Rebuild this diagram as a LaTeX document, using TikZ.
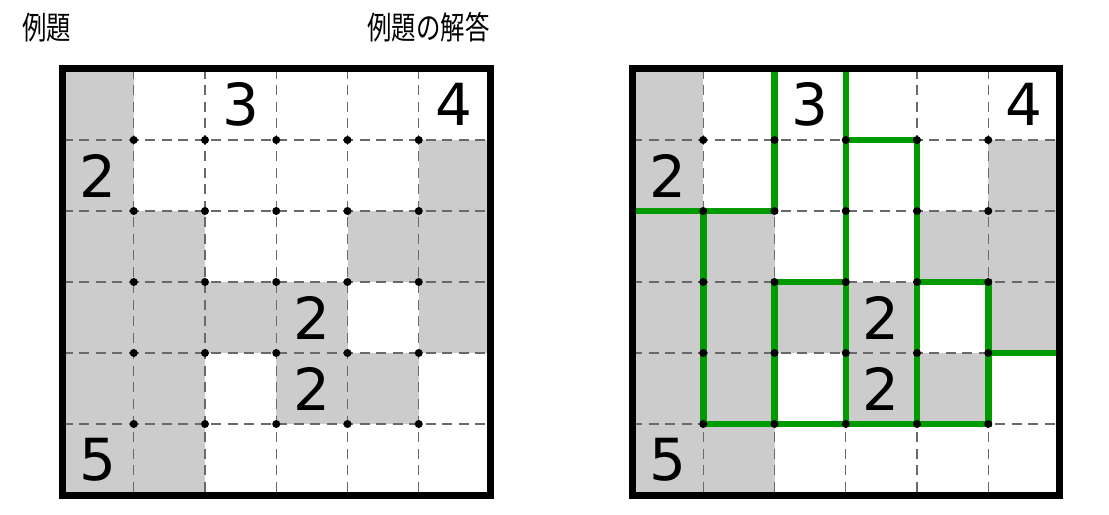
\documentclass[tikz,border=0pt]{standalone}
\usepackage{fontspec}
\newfontfamily\jpfont{Noto Sans CJK JP}
\newfontfamily\digitfont{DejaVu Sans}
\definecolor{cellgray}{RGB}{204,204,204}
\definecolor{dashgray}{RGB}{105,105,105}
\definecolor{routegreen}{RGB}{0,155,0}

\begin{document}
\begin{tikzpicture}[
    title/.style={anchor=west,inner sep=0pt,font=\jpfont\fontsize{13.9}{16}\selectfont},
    clue/.style={inner sep=0pt,font=\digitfont\fontsize{33}{36}\selectfont},
    shaded/.style={fill=cellgray},
    gridline/.style={dashgray,line width=0.7pt,dash pattern=on 0.2cm off 0.13cm},
    route/.style={routegreen,line width=0.13cm},
    frame/.style={line width=0.14cm,line join=miter}]
\useasboundingbox (0,0) rectangle (22.18,10.28);
\node[title] (qtitle) at (0.44,9.73) {\scalebox{1}[1.3]{例題}};
\node[title] (atitle) at (7.34,9.73) {\scalebox{1}[1.3]{例題の解答}};
\foreach \ox/\nm/\sol in {1.25/q/0,12.64/a/1}{
\begin{scope}[shift={(\ox cm,8.9cm)},x=1.425cm,y=-1.42cm]
    % shaded cells
    \foreach \c/\r in {0/0,0/1,5/1,0/2,1/2,4/2,5/2,0/3,1/3,2/3,3/3,5/3,
                       0/4,1/4,3/4,4/4,0/5,1/5}
        \fill[shaded] (\c,\r) rectangle ++(1,1);
    % dashed inner lines
    \foreach \i in {1,...,5}{
        \draw[gridline] (\i,0)--(\i,6);
        \draw[gridline] (0,\i)--(6,\i);
    }
    % solution
    \ifnum\sol=1
    \draw[route] (2,0)--(2,2)--(0,2);
    \draw[route] (3,0)--(3,5);
    \draw[route] (3,1)--(4,1)--(4,5);
    \draw[route] (1,2)--(1,5)--(5,5)--(5,3)--(4,3);
    \draw[route] (2,5)--(2,3)--(3,3);
    \draw[route] (5,4)--(6,4);
    \fi
    \foreach \i in {1,...,5}
        \foreach \j in {1,...,5}
            \fill (\i,\j) circle (0.08cm);
    \draw[frame] (0,0) rectangle (6,6);
    \node[clue] (\nm-three) at (2.5,0.5) {3};
    \node[clue] (\nm-four) at (5.5,0.5) {4};
    \node[clue] (\nm-twoa) at (0.5,1.5) {2};
    \node[clue] (\nm-twob) at (3.5,3.5) {2};
    \node[clue] (\nm-twoc) at (3.5,4.5) {2};
    \node[clue] (\nm-five) at (0.5,5.5) {5};
\end{scope}
}
\end{tikzpicture}
\end{document}
